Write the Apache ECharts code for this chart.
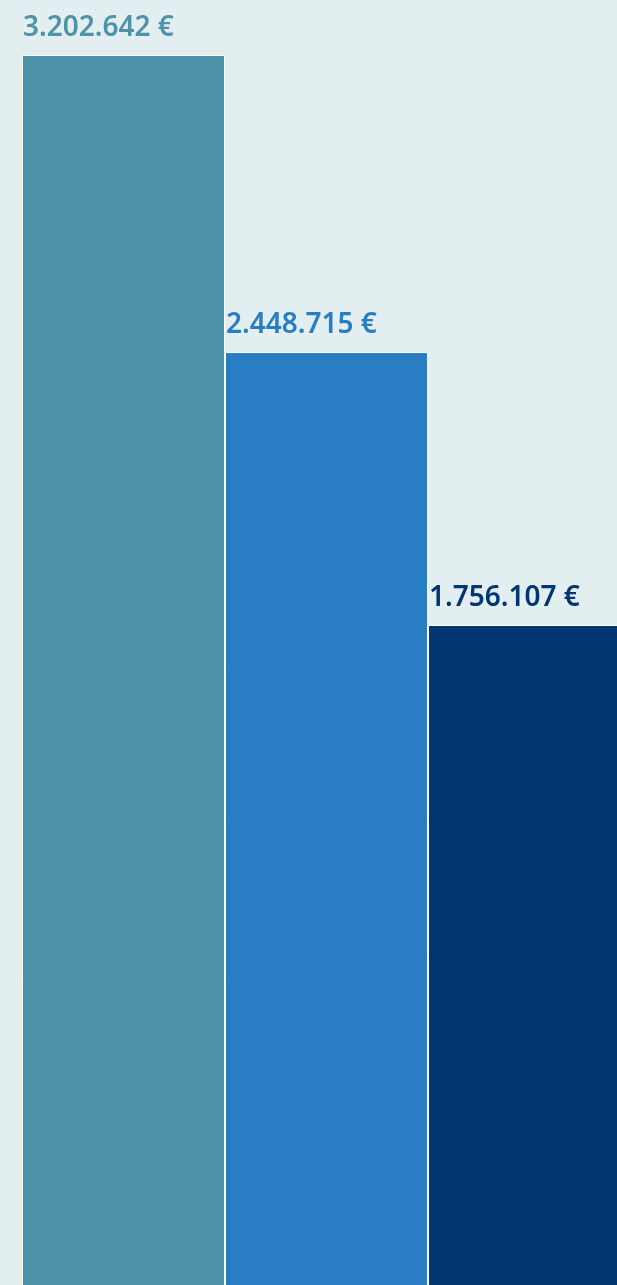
<!DOCTYPE html>
<html>
<head>
<meta charset="utf-8">
<script src="https://cdn.jsdelivr.net/npm/echarts@6/dist/echarts.min.js"></script>
<style>
  html, body { margin: 0; padding: 0; background: #e2eef0; }
  #chart { width: 617px; height: 1285px; }
</style>
</head>
<body>
<div id="chart"></div>
<script>
// Daten
var categories = ['A', 'B', 'C'];
var values = [3202642, 2448715, 1756107];
var barColors = ['#4e94a8', '#287dc3', '#023672'];

// 3.202.642 €
function formatEuro(v) {
	return String(v).replace(/\B(?=(\d{3})+(?!\d))/g, '.') + ' €';
}

var chart = echarts.init(document.getElementById('chart'));

var seriesData = [];
for (var i = 0, len = values.length; i < len; i++) {
	seriesData.push({
		value: values[i],
		itemStyle: { color: barColors[i] },
		label: { color: barColors[i] }
	});
}

chart.setOption({
	backgroundColor: '#e2eef0',
	animation: false,
	grid: {
		outerBoundsMode: 'none',
		left: 22,
		top: 55,
		width: 609,   // letzter Balken läuft über den Rand
		height: 1262  // Nullinie liegt unterhalb des Bildes
	},
	xAxis: {
		type: 'category',
		data: categories,
		show: false
	},
	yAxis: {
		type: 'value',
		min: 0,
		max: Math.max.apply(null, values),
		show: false
	},
	series: [{
		type: 'bar',
		barCategoryGap: '0%',
		itemStyle: {
			borderColor: '#ffffff',
			borderWidth: 1
		},
		label: {
			show: true,
			position: [1, -13],
			verticalAlign: 'bottom',
			align: 'left',
			fontFamily: 'Noto Sans',
			fontWeight: 600,
			fontSize: 28,
			formatter: function(p) { return formatEuro(p.value); }
		},
		data: seriesData
	}]
});
</script>
</body>
</html>
